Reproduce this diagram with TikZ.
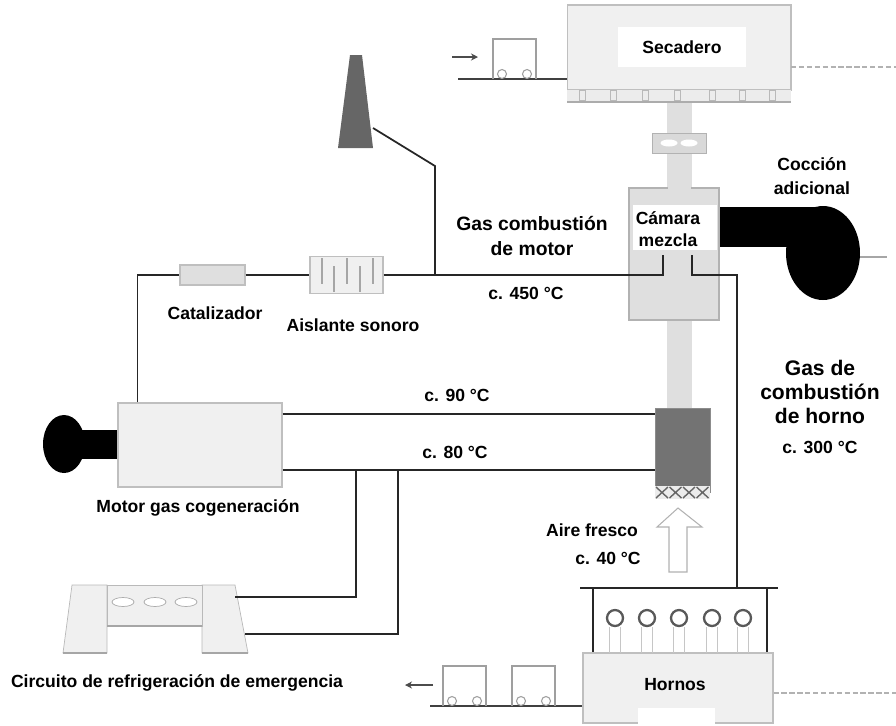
\documentclass[tikz,border=0pt]{standalone}
\usepackage{fontspec}
\setmainfont{Liberation Sans}
\usetikzlibrary{arrows.meta}

\begin{document}
\begin{tikzpicture}[x=0.02cm,y=-0.02cm,
  font=\bfseries\fontsize{10}{12}\selectfont,
  pipe/.style={draw=black!85,line width=1pt},
  unit/.style={draw=gray!50,fill=gray!12,line width=0.6pt,inner sep=0pt},
  txt/.style={inner sep=0pt,align=center},
  rail/.style={draw=black!75,line width=0.8pt},
  wagon/.style={draw=gray!75,line width=0.6pt},
  belt/.style={draw=gray!60,line width=0.8pt,dash pattern=on 3pt off 1.5pt}]
\useasboundingbox (0,0) rectangle (896,725);

% gas duct from the furnace to the dryer
\fill[gray!25] (667,102) rectangle (692,408);

% dryer
\node[unit,minimum width=4.48cm,minimum height=1.7cm] (SEC) at (679,47.5) {};
\fill[white] (618,27) rectangle (746,67);
\node[txt] (SECT) at (682,47) {Secadero};
\fill[gray!15] (567,90) rectangle (791,102);
\foreach \x in {582,613,645,677,712,742,772}
  \draw[gray!55] (\x-3,90) rectangle (\x+3,100);
\draw[gray!65,line width=0.8pt] (567,102) -- (791,102);
\draw[belt] (791,67) -- (896,67);

% damper
\node[draw=gray!60,fill=gray!30,minimum width=1.08cm,minimum height=0.4cm] (DMP) at (679,143) {};
\foreach \x in {669,689}
  \fill[white] (\x,143) ellipse[x radius=0.17cm,y radius=0.07cm];

% mixing chamber
\node[unit,fill=gray!25,draw=gray!60,minimum width=1.8cm,minimum height=2.64cm] (CAM) at (674,254) {};
\fill[gray!25] (668,186) rectangle (691,190);
\fill[white] (633,205) rectangle (717,250);
\node[txt,font=\bfseries\fontsize{10}{12.5}\selectfont] (CAMT) at (668,229) {Cámara\\mezcla};
\coordinate (INL) at (663,255);
\coordinate (OUT) at (692,255);

% burner for additional firing
\fill[black] (CAM.east |- 0,207) rectangle (823,247);
\fill[black] (823,253) ellipse[x radius=0.74cm,y radius=0.94cm];
\coordinate (BLW) at (860,257);
\draw[gray!70,line width=0.8pt] (BLW) -- (887,257);
\node[txt,font=\bfseries\fontsize{10}{14}\selectfont] (LCOC) at (812,176) {Cocción\\adicional};

% stack
\fill[black!60] (338,148) -- (350,55) -- (362,55) -- (373,148) -- cycle;
\coordinate (CHIM) at (373,128);
\coordinate (TEE) at (435,275);
\draw[pipe] (CHIM) -- (435,166) -- (TEE);

% engine exhaust line
\node[unit,fill=gray!25,minimum width=1.3cm,minimum height=0.4cm] (CAT) at (212.5,275) {};
\node[unit,minimum width=1.46cm,minimum height=0.74cm] (SIL) at (346.5,275) {};
\foreach \x/\a/\b in {322/258/284,334/266/292,347/258/284,360/266/292,373/258/284}
  \draw[gray!70,line width=0.7pt] (\x,\a) -- (\x,\b);
\draw[pipe] (CAT.east) -- (SIL.west);
\draw[pipe] (SIL.east) -| (INL);
\draw[pipe] (OUT) -- (692,275) -| (737,588);
\node[txt] (LCAT) at (215,313) {Catalizador};
\node[txt] (LSIL) at (353,325) {Aislante sonoro};
\node[txt,font=\bfseries\fontsize{11}{14}\selectfont] (LGM) at (532,236) {Gas combustión\\de motor};
\node[txt] (T450) at (526,293) {c. 450 °C};

% CHP gas engine with generator
\node[unit,minimum width=3.28cm,minimum height=1.68cm] (MOT) at (200,445) {};
\fill[black] (80,430) rectangle (MOT.west |- 0,459);
\fill[black] (64,444) ellipse[x radius=0.42cm,y radius=0.58cm];
\node[txt] (LMOT) at (198,508) {Motor gas cogeneración};
\draw[pipe] ([xshift=0.4cm]MOT.north west) |- (CAT.west);

% heat exchanger in the flue gas duct
\node[draw=black!45,fill=black!55,minimum width=1.1cm,minimum height=1.68cm] (HX) at (682.5,450) {};
\fill[gray!15] (655,486) rectangle (710,499);
\foreach \i in {0,...,3}
  \draw[black!60,line width=0.8pt] (656+13.5*\i,487) -- ++(12,11) ++(-12,0) -- ++(12,-11);
\path (MOT.east |- 0,414) coordinate (M1) (MOT.east |- 0,470) coordinate (M2);
\draw[pipe] (M1) -- (M1 -| HX.west);
\draw[pipe] (M2) -- (M2 -| HX.west);
\node[txt] (T90) at (457,395) {c. 90 °C};
\node[txt] (T80) at (455,452) {c. 80 °C};

% emergency cooler
\filldraw[draw=gray!55,fill=gray!12] (63,653) -- (72,585) -- (107,585) -- (107,653) -- cycle;
\filldraw[draw=gray!55,fill=gray!12] (202,653) -- (202,585) -- (235,585) -- (248,653) -- cycle;
\filldraw[draw=gray!55,fill=gray!12] (107,585) rectangle (202,626);
\draw[gray!70,line width=0.8pt] (63,653) -- (107,653) (202,653) -- (248,653) (107,626) -- (202,626);
\foreach \x in {123,155,186}
  \draw[gray!65,fill=white] (\x,602) ellipse[x radius=0.22cm,y radius=0.09cm];
\coordinate (CL1) at (235,597);
\coordinate (CL2) at (245,634);
\draw[pipe] (CL1) -| (356,470);
\draw[pipe] (CL2) -| (398,470);
\node[txt] (LCL) at (177,683) {Circuito de refrigeración de emergencia};

% fresh air
\draw[gray!60,fill=white,line width=0.6pt] (669,572) -- (669,527) -- (657,527) -- (678,508)
  -- (702,527) -- (687,527) -- (687,572) -- cycle;
\node[txt] (LAIR) at (592,530) {Aire fresco};
\node[txt] (T40) at (608,558) {c. 40 °C};

% kilns
\node[unit,minimum width=3.8cm,minimum height=1.4cm] (HOR) at (678,688) {};
\fill[white] (638,708) rectangle (715,725);
\node[txt] (HORT) at (675,685) {Hornos};
\draw[pipe] (580,588) -- (778,588);
\draw[pipe] (593,588) -- (HOR.north west -| 593,0);
\draw[pipe] (767,588) -- (HOR.north west -| 767,0);
\foreach \x in {615,647,679,712,743} {
  \draw[gray!45,line width=0.4pt] (\x-6,627) -- (\x-6,653) (\x+5,627) -- (\x+5,653);
  \draw[black!65,line width=1.3pt,fill=white] (\x,618) circle[radius=0.16cm];
}
\draw[belt] (HOR.east |- 0,693) -- (896,693);
\node[txt,font=\bfseries\fontsize{12}{13.5}\selectfont] (LGH) at (820,392) {Gas de\\combustión\\de horno};
\node[txt] (T300) at (820,447) {c. 300 °C};

% wagons on the rails
\draw[rail] (458,79) -- (SEC.west |- 0,79);
\draw[rail] (430,706) -- (HOR.west |- 0,706);
\foreach \x/\y in {493/79,443/706,512/706} {
  \draw[wagon] (\x,\y) -- (\x,\y-40) -- (\x+43,\y-40) -- (\x+43,\y);
  \draw[wagon,fill=white] (\x+9,\y-5) circle[radius=0.09cm] (\x+34,\y-5) circle[radius=0.09cm];
}
\draw[black!70,line width=0.6pt,-{Stealth[length=4pt,width=4pt]}] (452,57) -- (478,57);
\draw[black!70,line width=0.6pt,-{Stealth[length=4pt,width=4pt]}] (433,685) -- (405,685);
\end{tikzpicture}
\end{document}
